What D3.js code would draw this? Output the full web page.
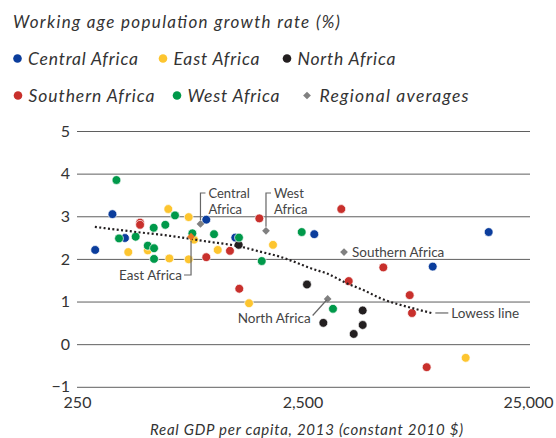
<!DOCTYPE html>
<html>
<head>
<meta charset="utf-8">
<script src="https://cdn.jsdelivr.net/npm/d3@7"></script>
<style>
  html, body { margin: 0; padding: 0; background: #fff; }
  svg { display: block; }
  text { font-family: Lato, "Open Sans", sans-serif; }
</style>
</head>
<body>
<svg id="chart" width="556" height="438"></svg>
<script>
// ---- Data (GDP per capita in constant 2010 $, working-age population growth %) ----
const regions = ["Central Africa", "East Africa", "North Africa", "Southern Africa", "West Africa"];
const regionColors = ["#0b3d9c", "#fdc52f", "#231f20", "#c8302c", "#00994a"];

const centralGDP = [301, 359, 408, 936, 1259, 2820, 9450, 16730];
const centralGrowth = [2.21, 3.05, 2.49, 2.92, 2.50, 2.58, 1.82, 2.63];

const eastGDP = [422, 515, 635, 642, 782, 782, 826, 1052, 1850, 1448, 13230];
const eastGrowth = [2.16, 2.20, 3.17, 2.01, 2.98, 1.99, 2.45, 2.21, 2.33, 0.96, -0.32];

const northGDP = [1303, 2617, 3093, 4217, 4622, 4622];
const northGrowth = [2.33, 1.40, 0.50, 0.24, 0.79, 0.45];

const southernGDP = [476, 476, 936, 1192, 1609, 1311, 3715, 4008, 5705, 7470, 7647, 8885];
const southernGrowth = [2.85, 2.80, 2.04, 2.19, 2.95, 1.30, 3.17, 1.48, 1.80, 1.15, 0.73, -0.54];

const westGDP = [374, 384, 455, 515, 547, 549, 549, 616, 680, 812, 1013, 1307, 1649, 2480, 3413];
const westGrowth = [3.85, 2.48, 2.52, 2.31, 2.73, 2.25, 2.00, 2.80, 3.02, 2.60, 2.58, 2.50, 1.95, 2.63, 0.83];

const averageNames = ["Central Africa", "East Africa", "West Africa", "Southern Africa", "North Africa"];
const averageGDP = [882, 801, 1722, 3820, 3232];
const averageGrowth = [2.82, 2.52, 2.66, 2.16, 1.06];

const lowessGDP = [300, 460, 646, 940, 1321, 1620, 1987, 2276, 2792, 3201, 3925, 4651, 5518, 7751, 9506];
const lowessGrowth = [2.75, 2.63, 2.54, 2.41, 2.29, 2.17, 2.05, 1.94, 1.76, 1.66, 1.43, 1.27, 1.08, 0.84, 0.72];

const xTicks = [250, 2500, 25000];
const yTicks = [-1, 0, 1, 2, 3, 4, 5];

const titleText = "Working age population growth rate (%)";
const xTitleText = "Real GDP per capita, 2013 (constant 2010 $)";

// ---- Layout ----
const svg = d3.select("#chart");
const x = d3.scaleLog().domain([250, 25000]).range([77, 528]);
const y = d3.scaleLinear().domain([-1, 5]).range([386.8, 131]);
const gridRight = 530;
const textColor = "#333";

// Title
svg.append("text").attr("x", 13).attr("y", 28)
  .attr("font-size", 17).attr("font-style", "italic").attr("fill", textColor)
  .attr("textLength", 327).attr("lengthAdjust", "spacing")
  .text(titleText);

// Legend
const legendItems = [
  { label: regions[0], color: regionColors[0], x: 17.5, y: 58.5, w: 110 },
  { label: regions[1], color: regionColors[1], x: 163, y: 58.5, w: 86 },
  { label: regions[2], color: regionColors[2], x: 287, y: 58.5, w: 98 },
  { label: regions[3], color: regionColors[3], x: 18, y: 95.5, w: 126 },
  { label: regions[4], color: regionColors[4], x: 177, y: 95.5, w: 92 },
];
const lg = svg.append("g");
legendItems.forEach(it => {
  lg.append("circle").attr("cx", it.x).attr("cy", it.y).attr("r", 4.3).attr("fill", it.color);
  lg.append("text").attr("x", it.x + 10.5).attr("y", it.y + 6.8)
    .attr("font-size", 17.5).attr("font-style", "italic").attr("fill", textColor)
    .attr("textLength", it.w).attr("lengthAdjust", "spacing")
    .text(it.label);
});
lg.append("path").attr("d", d3.symbol(d3.symbolSquare, 30)())
  .attr("transform", "translate(307,95.5) rotate(45)").attr("fill", "#808080");
lg.append("text").attr("x", 319.5).attr("y", 95.5 + 6.8)
  .attr("font-size", 17.5).attr("font-style", "italic").attr("fill", textColor)
  .attr("textLength", 149).attr("lengthAdjust", "spacing")
  .text("Regional averages");

// Y axis with gridlines
const yAxis = svg.append("g").attr("transform", "translate(77,0)")
  .call(d3.axisLeft(y).tickValues(yTicks).tickSize(-(gridRight - 77)).tickPadding(7).tickFormat(d3.format("d")));
yAxis.select(".domain").remove();
yAxis.selectAll(".tick line").attr("stroke", "#5f5f5f").attr("stroke-width", 1);
yAxis.selectAll(".tick text").attr("font-size", 16).attr("fill", textColor)
  .attr("font-family", "Lato, sans-serif");

// X axis
const xAxis = svg.append("g").attr("transform", `translate(0,${y(-1)})`)
  .call(d3.axisBottom(x).tickValues(xTicks).tickSize(0).tickPadding(10).tickFormat(d3.format(",")));
xAxis.select(".domain").remove();
xAxis.selectAll(".tick text").attr("font-size", 16).attr("fill", textColor)
  .attr("font-family", "Lato, sans-serif");

svg.append("text").attr("x", 150).attr("y", 434.5)
  .attr("font-size", 15).attr("font-style", "italic").attr("fill", textColor)
  .attr("textLength", 313).attr("lengthAdjust", "spacing")
  .text(xTitleText);

// Points
const groups = [
  [centralGDP, centralGrowth, regionColors[0]],
  [eastGDP, eastGrowth, regionColors[1]],
  [northGDP, northGrowth, regionColors[2]],
  [southernGDP, southernGrowth, regionColors[3]],
  [westGDP, westGrowth, regionColors[4]],
];
const pts = svg.append("g");
groups.forEach(([gx, gy, col]) => {
  pts.selectAll(null).data(gx.map((v, i) => [v, gy[i]])).enter()
    .append("circle")
    .attr("cx", d => x(d[0])).attr("cy", d => y(d[1]))
    .attr("r", 4.4).attr("fill", col)
    .attr("stroke", "#fff").attr("stroke-width", 0.7);
});

// Lowess line
const lowess = lowessGDP.map((v, i) => [v, lowessGrowth[i]]);
svg.append("path")
  .attr("d", d3.line().x(d => x(d[0])).y(d => y(d[1])).curve(d3.curveMonotoneX)(lowess))
  .attr("fill", "none").attr("stroke", "#231f20").attr("stroke-width", 2.2)
  .attr("stroke-dasharray", "2,2.4");

// Regional averages
const avgColors = ["#808080", "#e87722", "#808080", "#808080", "#808080"];
const av = svg.append("g");
averageGDP.forEach((v, i) => {
  av.append("path").attr("d", d3.symbol(d3.symbolSquare, 30)())
    .attr("transform", `translate(${x(v)},${y(averageGrowth[i])}) rotate(45)`)
    .attr("fill", avgColors[i]);
});

// Annotations
const ann = svg.append("g").attr("fill", "none").attr("stroke", "#666").attr("stroke-width", 1.2);
const annText = svg.append("g").attr("font-size", 13.5).attr("fill", "#444");
function twoLine(px, lines) {
  annText.append("text").attr("x", px + 8).attr("y", 198).attr("font-size", 13).text(lines[0]);
  annText.append("text").attr("x", px + 8).attr("y", 213.8).attr("font-size", 13).text(lines[1]);
}
// Central Africa
{
  const px = x(averageGDP[0]), py = y(averageGrowth[0]);
  ann.append("path").attr("d", `M${px},${py - 4} V193 H${px + 5}`);
  twoLine(px, ["Central", "Africa"]);
}
// West Africa
{
  const px = x(averageGDP[2]), py = y(averageGrowth[2]);
  ann.append("path").attr("d", `M${px},${py - 4} V193 H${px + 5}`);
  twoLine(px, ["West", "Africa"]);
}
// East Africa
{
  const px = x(averageGDP[1]), py = y(averageGrowth[1]);
  ann.append("path").attr("d", `M${px},${py + 4} V275 H${px - 7}`);
  annText.append("text").attr("x", px - 9).attr("y", 279.5).attr("text-anchor", "end").text("East Africa");
}
// Southern Africa
{
  const px = x(averageGDP[3]), py = y(averageGrowth[3]);
  annText.append("text").attr("x", px + 8).attr("y", py + 4.8).text("Southern Africa");
}
// North Africa
{
  const px = x(averageGDP[4]), py = y(averageGrowth[4]);
  ann.append("path").attr("d", `M${px - 1},${py + 1} L${px - 15},${py + 16.5}`);
  annText.append("text").attr("x", px - 17).attr("y", py + 24.5).attr("text-anchor", "end").text("North Africa");
}
// Lowess label
{
  const last = lowess[lowess.length - 1];
  const px = x(last[0]), py = y(last[1]);
  ann.append("path").attr("d", `M${px + 2},${py - 0.5} H${px + 15}`);
  annText.append("text").attr("x", px + 18).attr("y", py + 4.3).text("Lowess line");
}
</script>
</body>
</html>
